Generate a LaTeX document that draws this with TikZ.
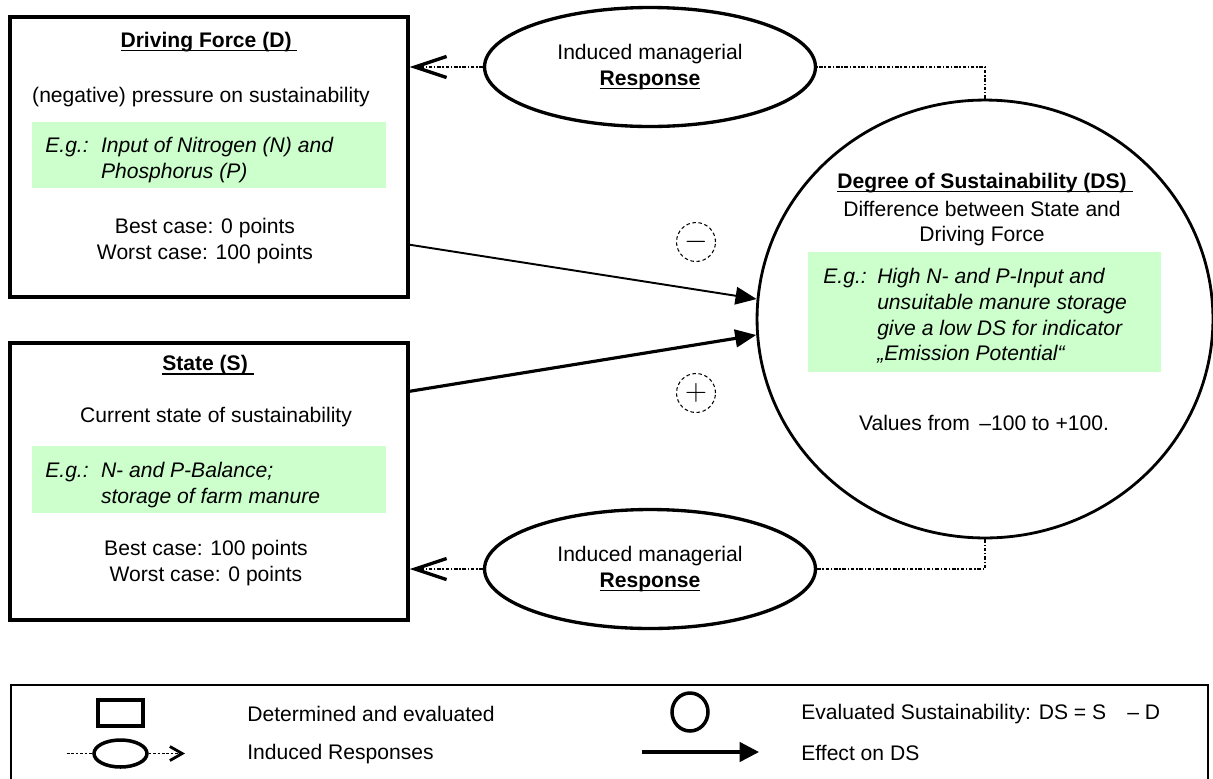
\documentclass[tikz,border=0pt]{standalone}
\usepackage{fontspec}
\setmainfont{Liberation Sans}
\usepackage{xcolor}
\usetikzlibrary{arrows.meta, shapes.geometric, calc}

\definecolor{egreen}{RGB}{204,255,204}
\newsavebox{\headbox}
\newcommand{\headline}[1]{\sbox{\headbox}{\textbf{#1}}%
  \rlap{\rule[-2.3pt]{\wd\headbox}{0.9pt}}\usebox{\headbox}}

\begin{document}
\begin{tikzpicture}[
  x=0.02cm, y=-0.02cm,
  every node/.style = {font=\fontsize{12}{14.7}\selectfont, inner sep=0pt},
  pbox/.style    = {draw, line width=2pt, minimum width=7.96cm},
  egbox/.style   = {fill=egreen, minimum width=7.08cm},
  egtxt/.style   = {font=\fontsize{12}{14.7}\selectfont\itshape, anchor=west},
  resp/.style    = {ellipse, draw, line width=1.9pt, align=center,
                    minimum width=6.62cm, minimum height=2.38cm},
  respline/.style= {line width=1.6pt, dash pattern=on 2pt off 1pt on 0.8pt off 1pt},
  barb/.style    = {-{Straight Barb[length=18pt, width=12pt, line width=1.9pt]}},
  effect/.style  = {-{Triangle[length=12pt, width=10pt]}},
  sign/.style    = {circle, draw, line width=0.6pt, dash pattern=on 2pt off 1.5pt,
                    minimum size=0.78cm, font=\fontsize{17}{17}\selectfont},
]
\useasboundingbox (0,0) rectangle (1213,778);

%% driving force
\node[pbox, minimum height=5.6cm] (drive) at (209,157) {};
\node (driveT) at (209,42) {\headline{Driving Force (D)\ }};
\node (driveP) at (201,97) {(negative) pressure on sustainability};
\node[egbox, minimum height=1.32cm] (driveEg) at (209,155) {};
\node[egtxt] (driveEgT) at (45,160)
  {\begin{tabular}{@{}l@{\hspace{7pt}}l@{}}E.g.: & Input of Nitrogen (N) and\\ & Phosphorus (P)\end{tabular}};
\node[align=center] (driveC) at (205,241) {Best case: 0 points\\Worst case: 100 points};

%% state
\node[pbox, minimum height=5.54cm] (state) at (209,481.5) {};
\node (stateT) at (208,365) {\headline{State (S)\ }};
\node (stateP) at (216,417) {Current state of sustainability};
\node[egbox, minimum height=1.34cm] (stateEg) at (209,479.5) {};
\node[egtxt] (stateEgT) at (45,485)
  {\begin{tabular}{@{}l@{\hspace{7pt}}l@{}}E.g.: & N- and P-Balance;\\ & storage of farm manure\end{tabular}};
\node[align=center] (stateC) at (206,563) {Best case: 100 points\\Worst case: 0 points};

%% degree of sustainability
\node[ellipse, draw, line width=1.6pt, minimum width=9.12cm, minimum height=8.76cm]
  (ds) at (985,319) {};
\node (dsT) at (985,183) {\headline{Degree of Sustainability (DS)\ }};
\node[align=center] (dsP) at (982,223.5) {Difference between State and\\Driving Force};
\node[fill=egreen, minimum width=7.06cm, minimum height=2.4cm] (dsEg) at (984.5,312) {};
\node[egtxt] (dsEgT) at (823,317)
  {\begin{tabular}{@{}l@{\hspace{6pt}}l@{}}E.g.: & High N- and P-Input and\\ & unsuitable manure storage\\
   & give a low DS for indicator\\ & „Emission Potential“\end{tabular}};
\node (dsV) at (984,423) {Values from \,–100 to +100.};

%% induced responses
\node[resp] (respT) at (650,67) {Induced managerial\\\headline{Response}};
\node[resp] (respB) at (650,569) {Induced managerial\\\headline{Response}};

\draw[respline] (ds.north) -- (ds.north |- respT.east) -- (respT.east);
\draw[respline, barb] (respT.west) -- (respT.west -| drive.east);
\draw[respline, line width=1.1pt] (ds.south) -- (ds.south |- respB.east) -- (respB.east);
\draw[respline, line width=1.1pt, barb] (respB.west) -- (respB.west -| state.east);

%% effects on DS
\draw[effect, line width=1.1pt] ([yshift=1.08cm]drive.south east) -- (ds.175);
\draw[effect, line width=1.8pt] ([yshift=-1.0cm]state.north east) -- (ds.184);
\node[sign] (minus) at (696,242) {$-$};
\node[sign] (plus) at (696,393) {$+$};

%% legend
\draw[line width=0.9pt] (11,685) rectangle (1208,800);
\node[draw, line width=2pt, minimum width=0.9cm, minimum height=0.52cm] (lgBox) at (120.5,713) {};
\node[anchor=west] (lgBoxT) at (247,714) {Determined and evaluated};
\node[ellipse, draw, line width=2pt, minimum width=1.06cm, minimum height=0.54cm] (lgResp) at (120.5,753.5) {};
\coordinate (lgIn) at (67,753.5);
\coordinate (lgOut) at (185,753.5);
\draw[line width=0.8pt, dash pattern=on 1.5pt off 1pt] (lgIn) -- (lgResp.west);
\draw[line width=0.8pt, dash pattern=on 1.5pt off 1pt,
      -{Straight Barb[length=7pt, width=8pt, line width=1.6pt]}] (lgResp.east) -- (lgOut);
\node[anchor=west] (lgRespT) at (247,754) {Induced Responses};
\node[ellipse, draw, line width=2pt, minimum width=0.72cm, minimum height=0.76cm] (lgDs) at (690,712) {};
\node[anchor=west] (lgDsT) at (801,714) {Evaluated Sustainability: DS = S\hspace{12pt}– D};
\coordinate (lgFrom) at (642,752);
\coordinate (lgTo) at (759,752);
\draw[line width=1.9pt, -{Triangle[length=11pt, width=11pt]}] (lgFrom) -- (lgTo);
\node[anchor=west] (lgEffT) at (801,753) {Effect on DS};

\end{tikzpicture}
\end{document}
